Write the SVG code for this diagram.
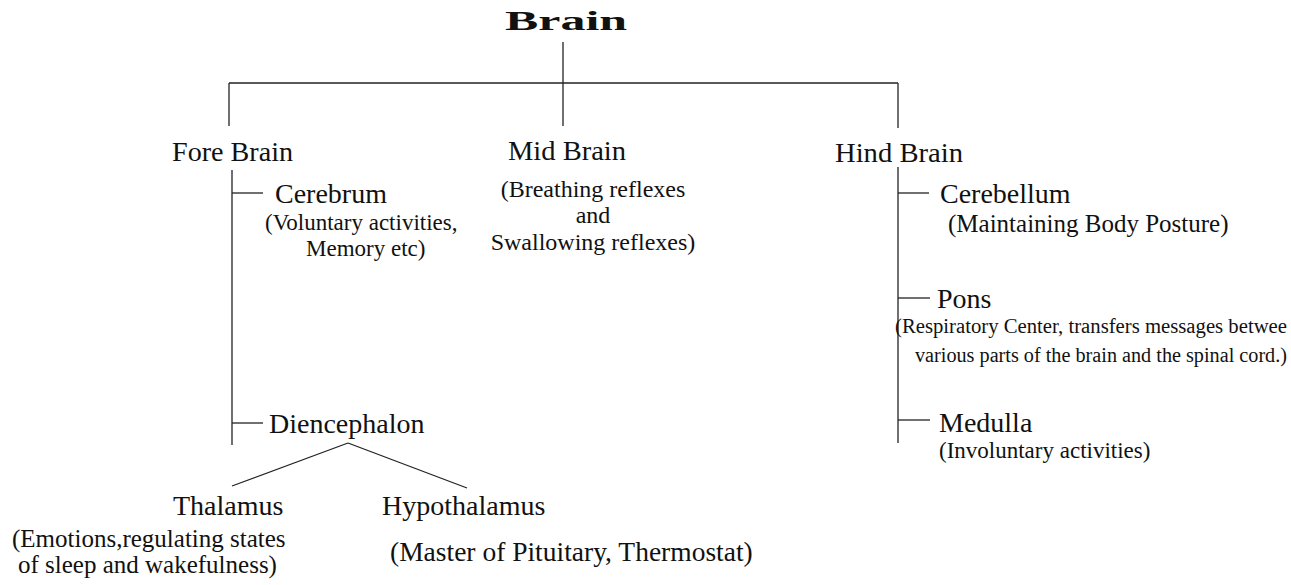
<svg xmlns="http://www.w3.org/2000/svg" width="1291" height="585" viewBox="0 0 1291 585">
<style>
text{font-family:"Liberation Serif","Times New Roman",serif;fill:#111;}
.conn line{stroke:#222;stroke-width:1.3;fill:none;}
.h{font-size:28px;}
.d{font-size:23px;}
.m{font-size:24px;}
.p{font-size:20.5px;}
</style>
<rect width="1291" height="585" fill="#fff"/>
<g id="connectors" class="conn">
<line x1="563" y1="42" x2="563" y2="126"/>
<line x1="229" y1="83" x2="898" y2="83"/>
<line x1="229" y1="83" x2="229" y2="126"/>
<line x1="898" y1="83" x2="898" y2="128"/>
<line x1="232" y1="170" x2="232" y2="445"/>
<line x1="232" y1="193" x2="263" y2="193"/>
<line x1="232" y1="423" x2="263" y2="423"/>
<line x1="898" y1="167" x2="898" y2="443"/>
<line x1="898" y1="193" x2="929" y2="193"/>
<line x1="898" y1="298" x2="930" y2="298"/>
<line x1="898" y1="420" x2="930" y2="420"/>
<line x1="348" y1="443" x2="232" y2="486"/>
<line x1="348" y1="443" x2="467" y2="488"/>
</g>
<g id="brain"><text x="505" y="30" font-size="27" font-weight="bold" textLength="122" lengthAdjust="spacingAndGlyphs">Brain</text></g>
<g id="fore-brain"><text class="h" x="172" y="161" textLength="121" lengthAdjust="spacingAndGlyphs">Fore Brain</text></g>
<g id="mid-brain"><text class="h" x="508" y="160" textLength="118" lengthAdjust="spacingAndGlyphs">Mid Brain</text>
<text class="m" x="593" y="197" text-anchor="middle">(Breathing reflexes</text>
<text class="m" x="593" y="223" text-anchor="middle">and</text>
<text class="m" x="593" y="250" text-anchor="middle">Swallowing reflexes)</text></g>
<g id="hind-brain"><text class="h" x="835" y="162" textLength="128" lengthAdjust="spacingAndGlyphs">Hind Brain</text></g>
<g id="cerebrum"><text class="h" x="275" y="203">Cerebrum</text>
<text class="d" x="265" y="230">(Voluntary activities,</text>
<text class="d" x="306" y="256">Memory etc)</text></g>
<g id="diencephalon"><text class="h" x="269" y="433">Diencephalon</text></g>
<g id="thalamus"><text class="h" x="173" y="515">Thalamus</text>
<text x="12" y="547" font-size="25">(Emotions,regulating states</text>
<text x="18" y="573" font-size="25">of sleep and wakefulness)</text></g>
<g id="hypothalamus"><text class="h" x="382" y="515">Hypothalamus</text>
<text x="390" y="561" font-size="27.5">(Master of Pituitary, Thermostat)</text></g>
<g id="cerebellum"><text class="h" x="940" y="203">Cerebellum</text>
<text x="948" y="232" font-size="25">(Maintaining Body Posture)</text></g>
<g id="pons"><text class="h" x="937" y="308">Pons</text>
<text class="p" x="895" y="333" textLength="392" lengthAdjust="spacingAndGlyphs">(Respiratory Center,  transfers messages betwee</text>
<text class="p" x="915" y="362" textLength="372" lengthAdjust="spacingAndGlyphs">various parts of the brain and the spinal cord.)</text></g>
<g id="medulla"><text class="h" x="939" y="432">Medulla</text>
<text class="d" x="939" y="458">(Involuntary activities)</text></g>
</svg>
